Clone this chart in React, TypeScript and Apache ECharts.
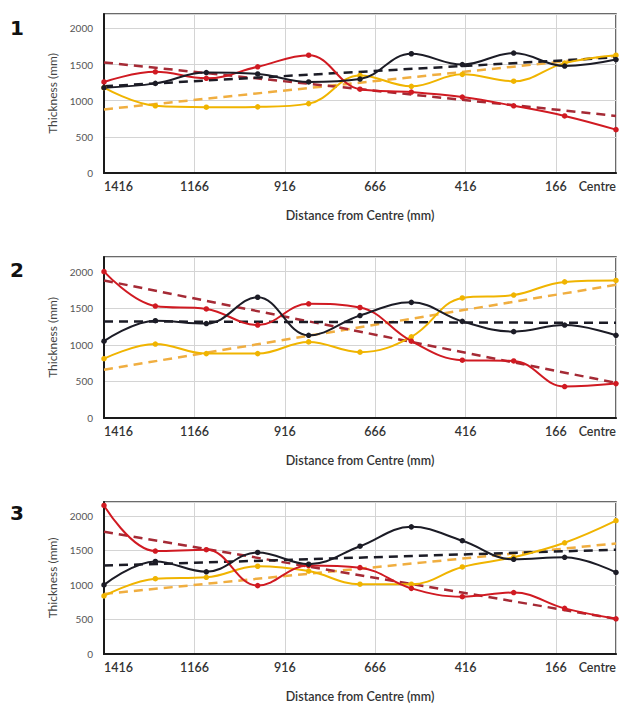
import React, { useEffect, useRef } from "react";
import * as echarts from "echarts";

// Distance from centre (mm) for each measured point
const distances = [1416, 1274, 1133, 991, 850, 708, 566, 425, 283, 142, 0];
const AXIS_SPAN = 1416;
const panelNames = ["1", "2", "3"];

// Panel 1
const p1Black = [1180, 1240, 1390, 1370, 1260, 1300, 1650, 1500, 1660, 1480, 1570];
const p1Red = [1260, 1400, 1310, 1470, 1630, 1160, 1120, 1050, 930, 790, 600];
const p1Yellow = [1180, 930, 910, 915, 960, 1350, 1200, 1365, 1270, 1520, 1630];
// Panel 2
const p2Black = [1050, 1330, 1290, 1650, 1130, 1400, 1580, 1320, 1180, 1270, 1130];
const p2Red = [2000, 1530, 1490, 1270, 1560, 1510, 1050, 790, 780, 430, 470];
const p2Yellow = [810, 1010, 880, 880, 1040, 900, 1110, 1640, 1680, 1860, 1880];
// Panel 3
const p3Black = [1000, 1340, 1190, 1470, 1300, 1560, 1840, 1640, 1370, 1400, 1180];
const p3Red = [2150, 1490, 1510, 990, 1280, 1250, 950, 830, 890, 660, 510];
const p3Yellow = [840, 1090, 1110, 1270, 1200, 1010, 1010, 1260, 1400, 1610, 1930];

// Linear trend lines: [value at 1416 mm, value at Centre]
const p1BlackTrend = [1200, 1600];
const p1RedTrend = [1530, 790];
const p1YellowTrend = [880, 1620];
const p2BlackTrend = [1320, 1300];
const p2RedTrend = [1880, 480];
const p2YellowTrend = [660, 1820];
const p3BlackTrend = [1280, 1510];
const p3RedTrend = [1770, 510];
const p3YellowTrend = [870, 1600];

const xTickLabels = ["1416", "1166", "916", "666", "416", "166", "Centre"];

const panels = [
  { black: p1Black, red: p1Red, yellow: p1Yellow, bt: p1BlackTrend, rt: p1RedTrend, yt: p1YellowTrend },
  { black: p2Black, red: p2Red, yellow: p2Yellow, bt: p2BlackTrend, rt: p2RedTrend, yt: p2YellowTrend },
  { black: p3Black, red: p3Red, yellow: p3Yellow, bt: p3BlackTrend, rt: p3RedTrend, yt: p3YellowTrend },
];

const gridBoxes = [
  { left: 104, top: 14, width: 513, height: 159 },
  { left: 104, top: 257, width: 515, height: 161 },
  { left: 104, top: 502, width: 512, height: 160 },
];
const labelY = [18, 260, 503];

const BLACK = "#1c1c26";
const RED = "#d01a22";
const YELLOW = "#f0b400";
const RED_DASH = "#a52a35";
const YELLOW_DASH = "#f0ae40";
const FONT = "Lato, 'Open Sans', sans-serif";

export default function App() {
  const ref = useRef<HTMLDivElement>(null);
  useEffect(() => {
    if (!ref.current) return;
    const chart = echarts.init(ref.current, null, { renderer: "svg" });
    const toX = (d: number) => AXIS_SPAN - d;
    const grid: any[] = [];
    const xAxis: any[] = [];
    const yAxis: any[] = [];
    const series: any[] = [];
    panels.forEach((p, i) => {
      grid.push({ ...gridBoxes[i], show: true, borderColor: "#3a3a3a", borderWidth: 1.5, backgroundColor: "#fff" });
      xAxis.push({
        gridIndex: i,
        type: "value",
        min: 0,
        max: AXIS_SPAN,
        interval: 250,
        name: "Distance from Centre (mm)",
        nameLocation: "middle",
        nameGap: 36,
        nameTextStyle: { fontFamily: FONT, fontSize: 12.5, color: "#333", fontWeight: 600 },
        axisLine: { show: true, onZero: false, lineStyle: { color: "#1a1a1a", width: 2 } },
        axisTick: { show: false },
        axisLabel: {
          margin: 7,
          fontFamily: FONT,
          fontSize: 12.5,
          fontWeight: 600,
          color: "#333",
          alignMinLabel: "left",
          alignMaxLabel: "right",
          formatter: (v: number) => {
            if (v === AXIS_SPAN) return xTickLabels[xTickLabels.length - 1];
            const idx = Math.round(v / 250);
            return xTickLabels[idx] ?? "";
          },
        },
        splitLine: { show: true, lineStyle: { color: "#d4d4d4", width: 1 } },
      });
      yAxis.push({
        gridIndex: i,
        type: "value",
        min: 0,
        max: 2200,
        interval: 500,
        name: "Thickness (mm)",
        nameLocation: "middle",
        nameGap: 46,
        nameTextStyle: { fontFamily: FONT, fontSize: 12, color: "#444" },
        axisLine: { show: true, lineStyle: { color: "#1a1a1a", width: 2 } },
        axisTick: { show: false },
        axisLabel: {
          margin: 11,
          fontFamily: FONT,
          fontSize: 10,
          color: "#555",
          formatter: (v: number) => (v > 2000 ? "" : String(v)),
        },
        splitLine: { show: true, lineStyle: { color: "#d4d4d4", width: 1 } },
      });
      const lineS = (vals: number[], color: string, z: number) => ({
        type: "line",
        xAxisIndex: i,
        yAxisIndex: i,
        data: vals.map((v, k) => [toX(distances[k]), v]),
        smooth: 0.4,
        symbol: "circle",
        symbolSize: 5.5,
        lineStyle: { color, width: 2 },
        itemStyle: { color },
        z,
      });
      const trendS = (t: number[], color: string, z: number) => ({
        type: "line",
        xAxisIndex: i,
        yAxisIndex: i,
        data: [
          [toX(distances[0]), t[0]],
          [toX(distances[distances.length - 1]), t[1]],
        ],
        symbol: "none",
        lineStyle: { color, width: 2.5, type: [9, 6] },
        z,
      });
      series.push(trendS(p.yt, YELLOW_DASH, 2));
      series.push(trendS(p.rt, RED_DASH, 2));
      series.push(trendS(p.bt, BLACK, 2));
      series.push(lineS(p.yellow, YELLOW, 3));
      series.push(lineS(p.red, RED, 3));
      series.push(lineS(p.black, BLACK, 3));
    });
    const graphic = panelNames.map((n, i) => ({
      type: "text",
      left: 10,
      top: labelY[i],
      style: { text: n, fontFamily: "'DejaVu Sans', sans-serif", fontSize: 20, fontWeight: "bold", fill: "#111" },
    }));
    chart.setOption({
      animation: false,
      backgroundColor: "#fff",
      grid,
      xAxis,
      yAxis,
      series,
      graphic,
    });
    return () => chart.dispose();
  }, []);
  return (
    <div
      ref={ref}
      style={{ position: "fixed", left: 0, top: 0, width: 619, height: 704, background: "#fff" }}
    />
  );
}
